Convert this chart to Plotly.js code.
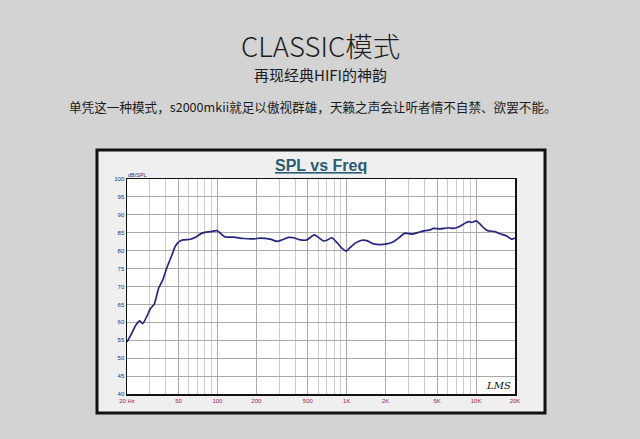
<!DOCTYPE html>
<html>
<head>
<meta charset="utf-8">
<script src="https://cdn.plot.ly/plotly-3.0.1.min.js"></script>
<style>html,body{margin:0;padding:0;background:#d3d3d3;}#chart{width:640px;height:439px;}</style>
</head>
<body>
<div id="chart"></div>
<script>
// Frequency (Hz) and SPL (dB)
const freqHz = [20, 21.8, 23.5, 25.1, 26.4, 28.5, 30.3, 32.5, 35.1, 37.9, 40.7, 44.5, 47.2, 50.1, 54.2, 61.7, 68.7, 75.9, 88.1, 99.1,
  105, 115, 133, 159, 191, 214, 256, 288, 316, 355, 388, 437, 492, 560, 605, 661, 710, 767, 838, 916, 991,
  1063, 1162, 1309, 1430, 1611, 1813, 2042, 2298, 2512, 2827, 3183, 3584, 4036, 4414, 4680, 5270, 6111, 6684,
  7300, 7986, 8730, 9267, 10000, 10620, 11400, 12250, 14040, 15330, 17260, 18850, 20000];
const splDb = [54.5, 57.0, 59.3, 60.4, 59.6, 61.7, 63.8, 65.1, 69.5, 71.9, 75.3, 78.8, 81.2, 82.4, 83.0, 83.2, 83.9, 84.9, 85.3, 85.6,
  84.9, 83.8, 83.8, 83.4, 83.3, 83.5, 83.2, 82.6, 83.0, 83.7, 83.6, 83.0, 83.0, 84.4, 83.7, 82.7, 83.0, 83.6, 82.3, 80.7, 79.9,
  80.9, 82.1, 82.9, 82.8, 81.9, 81.7, 81.9, 82.5, 83.5, 84.9, 84.6, 85.1, 85.6, 85.8, 86.2, 86.1, 86.4, 86.2,
  86.6, 87.4, 88.1, 87.9, 88.3, 87.6, 86.4, 85.6, 85.3, 84.7, 84.1, 83.2, 83.5];

const xTickVals = [20, 50, 100, 200, 500, 1000, 2000, 5000, 10000, 20000];
const xTickText = ['20 Hz', '50', '100', '200', '500', '1K', '2K', '5K', '10K', '20K'];
const xMinorVals = [30, 40, 60, 70, 80, 90, 300, 400, 600, 700, 800, 900, 3000, 4000, 6000, 7000, 8000, 9000];

const mainTitle = 'CLASSIC模式';
const subTitle = '再现经典HIFI的神韵';
const bodyText = '单凭这一种模式，s2000mkii就足以傲视群雄，天籁之声会让听者情不自禁、欲罢不能。';
const chartTitle = 'SPL vs Freq';

// pixel -> paper helpers (plot area 127..515 x, 179..394 y)
const L = 127, R = 515, T = 179, B = 394;
const px = x => (x - L) / (R - L);
const py = y => (B - y) / (B - T);

const trace = {
  x: freqHz, y: splDb, type: 'scatter', mode: 'lines',
  line: {color: '#26267f', width: 1.7, shape: 'spline', smoothing: 0.6},
  hoverinfo: 'skip'
};

const cjk = '"Noto Sans CJK SC", "Noto Sans", sans-serif';

const layout = {
  width: 640, height: 439,
  margin: {l: L, r: 640 - R, t: T, b: 439 - B},
  paper_bgcolor: '#d3d3d3',
  plot_bgcolor: '#ffffff',
  showlegend: false,
  xaxis: {
    type: 'log', range: [Math.log10(20), Math.log10(20000)],
    tickmode: 'array', tickvals: xTickVals, ticktext: xTickText,
    tickfont: {family: 'Liberation Sans, Arial, sans-serif', size: 6, color: '#a3204f'},
    ticks: '', ticklen: 0,
    showgrid: true, gridcolor: '#aaaaaa', gridwidth: 1,
    minor: {tickmode: 'array', tickvals: xMinorVals, showgrid: true, gridcolor: '#cdcdcd', gridwidth: 1, ticks: ''},
    showline: true, linecolor: '#111111', linewidth: 1.5, mirror: true,
    zeroline: false, fixedrange: true
  },
  yaxis: {
    range: [40, 100], dtick: 5, tick0: 40,
    tickfont: {family: 'Liberation Sans, Arial, sans-serif', size: 6, color: '#1f2f6f'},
    ticks: '', ticklen: 0,
    showgrid: true, gridcolor: '#aaaaaa', gridwidth: 1,
    showline: true, linecolor: '#111111', linewidth: 1.5, mirror: true,
    zeroline: false, fixedrange: true
  },
  shapes: [
    {type: 'rect', xref: 'paper', yref: 'paper', x0: px(97), x1: px(545), y0: py(150), y1: py(413),
     fillcolor: '#efefef', line: {color: '#111111', width: 3}, layer: 'below'},
    {type: 'rect', xref: 'paper', yref: 'paper', x0: 0, x1: 1, y0: 0, y1: 1,
     fillcolor: '#ffffff', line: {width: 0}, layer: 'below'}
  ],
  annotations: [
    {text: mainTitle, xref: 'paper', yref: 'paper', x: px(320), y: py(45), showarrow: false,
     xanchor: 'center', yanchor: 'middle', font: {family: cjk, size: 27.5, color: '#1c1c1c', weight: 300}},
    {text: subTitle, xref: 'paper', yref: 'paper', x: px(320.5), y: py(75), showarrow: false,
     xanchor: 'center', yanchor: 'middle', font: {family: cjk, size: 15, color: '#1c1c1c'}},
    {text: bodyText, xref: 'paper', yref: 'paper', x: px(312.5), y: py(107), showarrow: false,
     xanchor: 'center', yanchor: 'middle', font: {family: cjk, size: 12.6, color: '#1c1c1c'}},
    {text: chartTitle, xref: 'paper', yref: 'paper', x: px(321), y: py(165), showarrow: false,
     xanchor: 'center', yanchor: 'middle',
     font: {family: 'Liberation Sans, Arial, sans-serif', size: 16, color: '#2a5d72', weight: 'bold', lineposition: 'under'}},
    {text: 'dB/SPL', xref: 'paper', yref: 'paper', x: px(126), y: py(174.5), showarrow: false,
     xanchor: 'left', yanchor: 'middle', font: {family: 'Liberation Sans, Arial, sans-serif', size: 5.5, color: '#1f2f6f'}},
    {text: 'LMS', xref: 'paper', yref: 'paper', x: px(498), y: py(385), showarrow: false,
     xanchor: 'center', yanchor: 'middle', font: {family: 'DejaVu Serif, serif', size: 10, color: '#111111', style: 'italic'}}
  ]
};

Plotly.newPlot('chart', [trace], layout, {staticPlot: true, displayModeBar: false});
</script>
</body>
</html>
